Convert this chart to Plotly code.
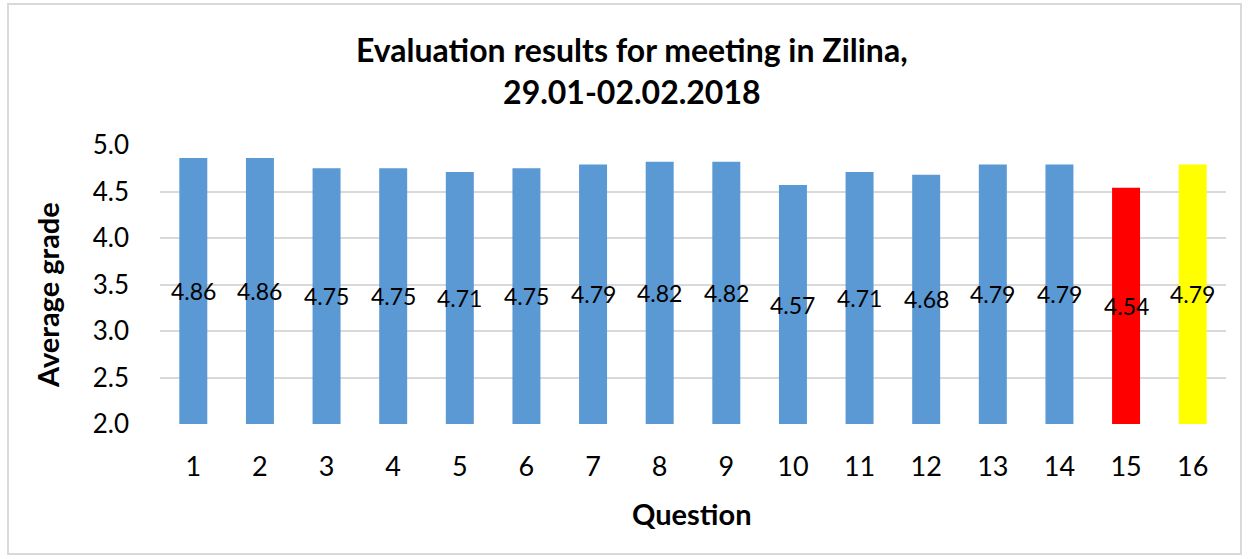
import plotly.graph_objects as go

questions = [str(i) for i in range(1, 17)]
grades = [4.86, 4.86, 4.75, 4.75, 4.71, 4.75, 4.79, 4.82, 4.82, 4.57, 4.71, 4.68, 4.79, 4.79, 4.54, 4.79]
bar_colors = ["#5a99d4"] * 14 + ["#ff0000", "#ffff00"]
labels = [f"{g:.2f}" for g in grades]
y_min, y_max = 2.0, 5.0

FONT = "Lato"
W, H = 1250, 559
ml, mr, mt, mb = 160, 24, 145, 135
pw, ph = W - ml - mr, H - mt - mb

fig = go.Figure()
fig.add_trace(go.Bar(
    x=questions, y=grades,
    marker=dict(color=bar_colors, line=dict(width=0)),
    width=0.42, hoverinfo="x+y",
))

# data labels centred in the visible part of each bar (category index positions)
for i, (g, lab) in enumerate(zip(grades, labels)):
    fig.add_annotation(
        x=i, y=(y_min + g) / 2, xref="x", yref="y", text=lab, showarrow=False,
        xanchor="center", yanchor="middle",
        font=dict(family=FONT, size=23, color="#000000"),
    )

fig.update_layout(
    width=W, height=H,
    margin=dict(l=ml, r=mr, t=mt, b=mb, autoexpand=False),
    paper_bgcolor="white", plot_bgcolor="white",
    showlegend=False,
    xaxis=dict(
        type="category", showgrid=False, showline=False, ticks="", automargin=False,
        range=[-0.5, len(questions) - 0.5],
        tickfont=dict(family=FONT, size=27, color="#000000"),
        ticklabelstandoff=24,
    ),
    yaxis=dict(
        range=[y_min, y_max], dtick=0.5, tickformat=".1f", automargin=False,
        showgrid=True, gridcolor="#d9d9d9", gridwidth=2,
        zeroline=False, showline=False, ticks="",
        tickfont=dict(family=FONT, size=26, color="#000000"),
        ticklabelstandoff=30,
    ),
)

# title
fig.add_annotation(
    x=(632 - ml) / pw, y=(H - 70 - mb) / ph, xref="paper", yref="paper", showarrow=False,
    text="<b>Evaluation results for meeting in Zilina,<br>29.01-02.02.2018</b>",
    xanchor="center", yanchor="middle", align="center",
    font=dict(family=FONT, size=32, color="#000000"),
)
# axis titles
fig.add_annotation(
    x=(47 - ml) / pw, y=(H - mb - 295) / ph, xref="paper", yref="paper", showarrow=False,
    text="<b>Average grade</b>", textangle=-90, xanchor="center", yanchor="middle",
    font=dict(family=FONT, size=29, color="#000000"),
)
fig.add_annotation(
    x=(692 - ml) / pw, y=-(513 - (H - mb)) / ph, xref="paper", yref="paper", showarrow=False,
    text="<b>Question</b>", xanchor="center", yanchor="middle",
    font=dict(family=FONT, size=29, color="#000000"),
)

# outer chart border
fig.add_shape(
    type="rect", xref="paper", yref="paper",
    x0=(8 - ml) / pw, x1=(W - 9 - ml) / pw,
    y0=-(H - 5 - (H - mb)) / ph, y1=(H - mb - 4) / ph,
    line=dict(color="#d9d9d9", width=2), fillcolor="rgba(0,0,0,0)", layer="above",
)

fig.write_html(
    "out.html",
    config={"displayModeBar": False},
    post_script="document.body.style.margin='0';document.body.style.overflow='hidden';",
)
